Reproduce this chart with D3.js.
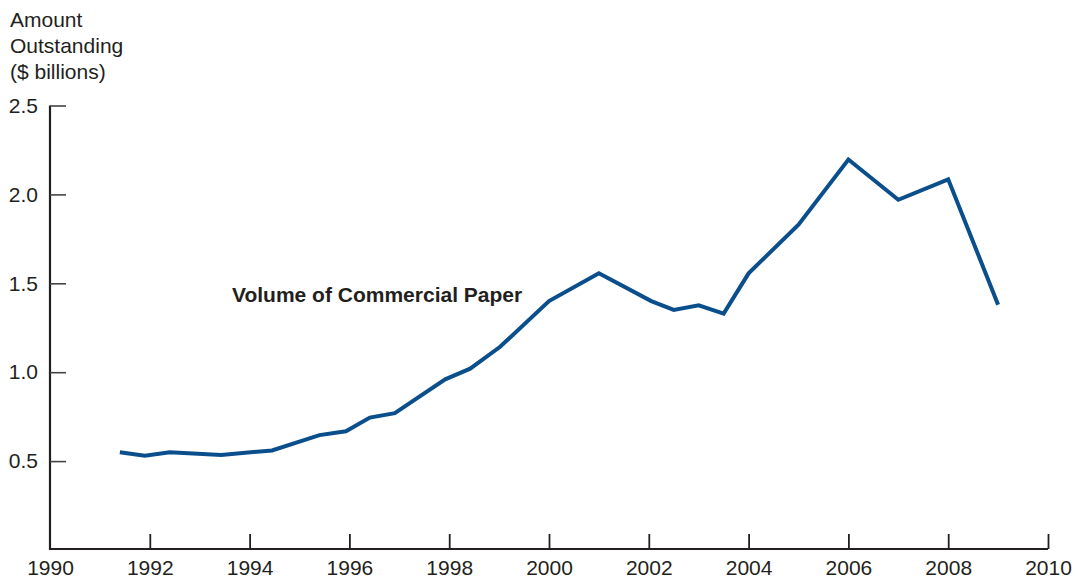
<!DOCTYPE html>
<html>
<head>
<meta charset="utf-8">
<script src="https://cdn.jsdelivr.net/npm/d3@7"></script>
<style>
  html, body { margin: 0; padding: 0; background: #fff; }
  svg { display: block; font-family: "Liberation Sans", Arial, Helvetica, sans-serif; }
</style>
</head>
<body>
<svg id="chart" width="1081" height="579"></svg>
<script>
// ---- Data ----
const years = [1991.4, 1991.9, 1992.4, 1993.43, 1994.45, 1995.4, 1995.93, 1996.41, 1996.91, 1997.92, 1998.42, 1999.02, 2000.0, 2001.0, 2002.05, 2002.5, 2003.0, 2003.5, 2004.0, 2005.0, 2006.0, 2007.0, 2008.0, 2009.0];
const volume = [0.55, 0.53, 0.55, 0.535, 0.56, 0.646, 0.668, 0.745, 0.77, 0.96, 1.02, 1.143, 1.40, 1.556, 1.40, 1.35, 1.376, 1.33, 1.556, 1.83, 2.196, 1.97, 2.085, 1.38];
const xTicks = [1990, 1992, 1994, 1996, 1998, 2000, 2002, 2004, 2006, 2008, 2010];
const yTicks = [0.5, 1.0, 1.5, 2.0, 2.5];
const yTitle = ["Amount", "Outstanding", "($ billions)"];
const seriesLabel = "Volume of Commercial Paper";

// ---- Drawing ----
const svg = d3.select("#chart");
const x = d3.scaleLinear().domain([1990, 2010]).range([50, 1048]);
const y = d3.scaleLinear().domain([0, 2.5]).range([550, 105.5]);

const axisColor = "#231f20";
const fontSize = 21;

// X axis
const xAxis = svg.append("g")
  .attr("transform", `translate(0,${y(0) - 1})`)
  .attr("font-size", fontSize)
  .attr("font-family", "Liberation Sans, Arial, sans-serif")
  .call(d3.axisBottom(x).tickValues(xTicks).tickFormat(d3.format("d")).tickSize(-15).tickPadding(11));
xAxis.attr("font-size", fontSize).attr("font-family", "Liberation Sans, Arial, sans-serif");
xAxis.select(".domain").attr("stroke", axisColor).attr("stroke-width", 2.2).attr("d", `M${x(1990)},0H${x(2010)}`);
xAxis.selectAll(".tick line").attr("stroke", axisColor).attr("stroke-width", 1.8)
  .filter(d => d === 1990).remove();
xAxis.selectAll(".tick text").attr("fill", axisColor);

// Y axis
const yAxis = svg.append("g")
  .attr("transform", `translate(${x(1990)},0)`)
  .call(d3.axisLeft(y).tickValues(yTicks).tickFormat(d3.format(".1f")).tickSize(-16).tickPadding(12));
yAxis.attr("font-size", fontSize).attr("font-family", "Liberation Sans, Arial, sans-serif");
yAxis.select(".domain").attr("stroke", axisColor).attr("stroke-width", 2.2)
  .attr("d", `M0,${y(2.5)}V${y(0)}`);
yAxis.selectAll(".tick line").attr("stroke", "#444").attr("stroke-width", 1.6);
yAxis.selectAll(".tick text").attr("fill", axisColor);

// Y title
svg.append("text")
  .attr("x", 10).attr("y", 27)
  .attr("font-size", fontSize).attr("fill", axisColor)
  .selectAll("tspan").data(yTitle).join("tspan")
  .attr("x", 10).attr("dy", (d, i) => i === 0 ? 0 : 26)
  .text(d => d);

// Line
const line = d3.line().x((d, i) => x(years[i])).y(d => y(d));
svg.append("path")
  .datum(volume)
  .attr("fill", "none")
  .attr("stroke", "#0a4f8c")
  .attr("stroke-width", 4)
  .attr("stroke-linejoin", "miter")
  .attr("d", line);

// Series label
svg.append("text")
  .attr("x", 232).attr("y", 302)
  .attr("font-size", fontSize).attr("font-weight", "bold").attr("fill", axisColor)
  .text(seriesLabel);
</script>
</body>
</html>
